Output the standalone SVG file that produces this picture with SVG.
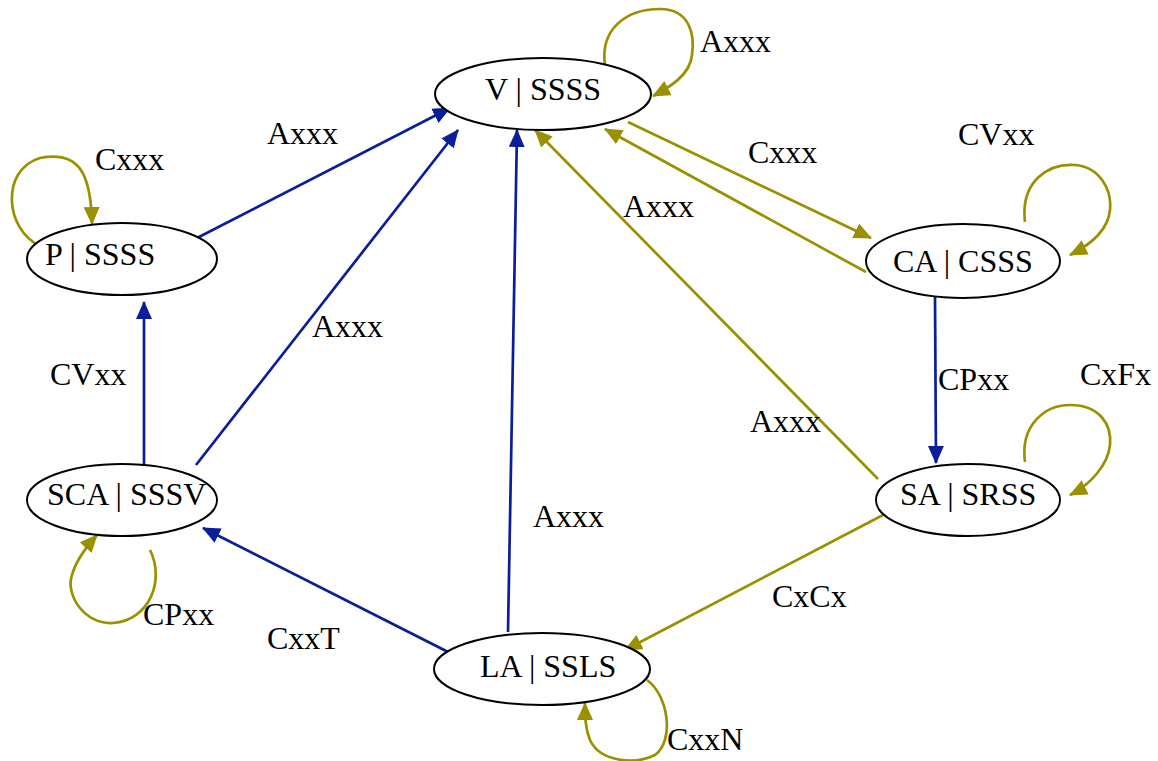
<svg xmlns="http://www.w3.org/2000/svg" width="1158" height="761" viewBox="0 0 1158 761">
<defs>
<style>
.node{fill:#fff;stroke:#000;stroke-width:2}
.t{font-family:"Liberation Serif","Times New Roman",serif;font-size:32px;fill:#000}
.b{fill:none;stroke:#0a1e99;stroke-width:2.7}
.o{fill:none;stroke:#999100;stroke-width:2.7}
</style>
<marker id="ab" markerUnits="userSpaceOnUse" markerWidth="19" markerHeight="17" refX="17" refY="8" orient="auto"><path d="M0,0 L18,8 L0,16 z" fill="#0a1e99"/></marker>
<marker id="ao" markerUnits="userSpaceOnUse" markerWidth="19" markerHeight="17" refX="17" refY="8" orient="auto"><path d="M0,0 L18,8 L0,16 z" fill="#999100"/></marker>
</defs>
<rect width="1158" height="761" fill="#fff"/>
<g id="connectors">
<line class="b" x1="197" y1="238" x2="450" y2="108" marker-end="url(#ab)"/>
<line class="b" x1="196" y1="465" x2="458" y2="130" marker-end="url(#ab)"/>
<line class="b" x1="508" y1="632" x2="517" y2="130" marker-end="url(#ab)"/>
<line class="b" x1="144" y1="465" x2="144" y2="302" marker-end="url(#ab)"/>
<line class="b" x1="458" y1="657" x2="203" y2="528" marker-end="url(#ab)"/>
<line class="b" x1="935" y1="297" x2="936" y2="463" marker-end="url(#ab)"/>
<line class="o" x1="628" y1="122" x2="871" y2="238" marker-end="url(#ao)"/>
<line class="o" x1="866" y1="272" x2="605" y2="129" marker-end="url(#ao)"/>
<line class="o" x1="878" y1="479" x2="535" y2="130" marker-end="url(#ao)"/>
<line class="o" x1="883" y1="515" x2="625" y2="650" marker-end="url(#ao)"/>
<path class="o" d="M605,65 C600,30 625,9 660,9 C690,9 695,35 692,55 C690,75 670,87 653,96" marker-end="url(#ao)"/>
<path class="o" d="M40,246 C5,230 0,170 40,158 C80,150 91,175 92,224" marker-end="url(#ao)"/>
<path class="o" d="M1025,222 C1020,180 1050,163 1075,165 C1100,167 1112,190 1110,210 C1108,230 1090,245 1070,255" marker-end="url(#ao)"/>
<path class="o" d="M1025,462 C1020,425 1045,405 1070,405 C1100,405 1112,425 1110,445 C1108,465 1090,485 1070,495" marker-end="url(#ao)"/>
<path class="o" d="M150,550 C165,580 150,620 113,623 C85,625 65,595 72,575 C76,560 88,545 97,535" marker-end="url(#ao)"/>
<path class="o" d="M647,680 C668,695 675,740 655,755 C635,765 600,762 590,740 C585,728 585,715 585,703" marker-end="url(#ao)"/>
<text class="t" x="700" y="52">Axxx</text>
<text class="t" x="95" y="170">Cxxx</text>
<text class="t" x="958" y="145">CVxx</text>
<text class="t" x="267" y="144">Axxx</text>
<text class="t" x="748" y="163">Cxxx</text>
<text class="t" x="623" y="217">Axxx</text>
<text class="t" x="312" y="337">Axxx</text>
<text class="t" x="50" y="385">CVxx</text>
<text class="t" x="938" y="390">CPxx</text>
<text class="t" x="1080" y="385">CxFx</text>
<text class="t" x="750" y="432">Axxx</text>
<text class="t" x="533" y="527">Axxx</text>
<text class="t" x="143" y="625">CPxx</text>
<text class="t" x="772" y="607">CxCx</text>
<text class="t" x="267" y="649">CxxT</text>
<text class="t" x="667" y="750">CxxN</text>
</g>
<g id="node-V"><ellipse class="node" cx="543" cy="94" rx="108" ry="36"/><text class="t" x="485" y="100">V | SSSS</text></g>
<g id="node-P"><ellipse class="node" cx="122" cy="259" rx="95" ry="36"/><text class="t" x="45" y="265">P | SSSS</text></g>
<g id="node-CA"><ellipse class="node" cx="963" cy="261" rx="97" ry="37"/><text class="t" x="893" y="272">CA | CSSS</text></g>
<g id="node-SA"><ellipse class="node" cx="968" cy="500" rx="92" ry="36"/><text class="t" x="900" y="505">SA | SRSS</text></g>
<g id="node-SCA"><ellipse class="node" cx="122" cy="500" rx="95" ry="36"/><text class="t" x="47" y="505">SCA | SSSV</text></g>
<g id="node-LA"><ellipse class="node" cx="542" cy="669" rx="108" ry="36"/><text class="t" x="480" y="677">LA | SSLS</text></g>
</svg>
